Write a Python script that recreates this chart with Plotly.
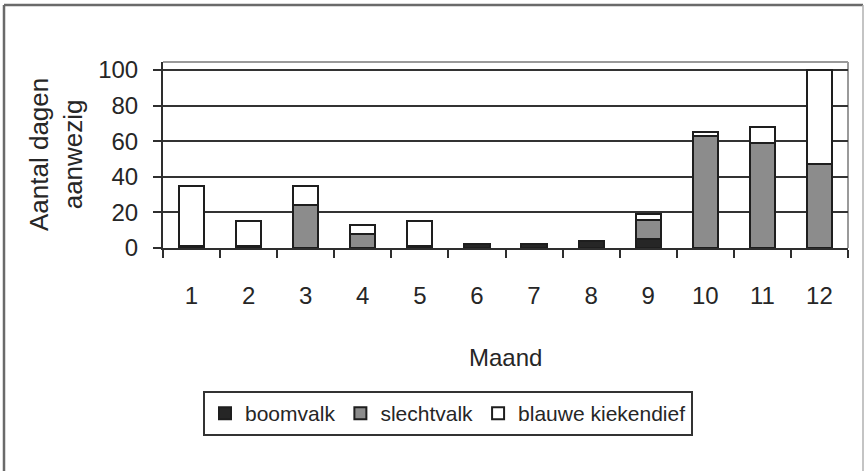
import plotly.graph_objects as go

# Months and days present per raptor species
maand = ["1", "2", "3", "4", "5", "6", "7", "8", "9", "10", "11", "12"]
boomvalk = [1, 1, 0, 0, 1, 2, 2, 4, 5, 0, 0, 0]
slechtvalk = [0, 0, 24, 8, 0, 0, 0, 0, 11, 63, 59, 47]
blauwe_kiekendief = [34, 14, 11, 5, 14, 0, 0, 0, 3, 2, 9, 53]
y_ticks = [0, 20, 40, 60, 80, 100]

FONT = "Liberation Sans, Arial, sans-serif"
INK = "#262626"
EDGE = dict(color="#1e1e1e", width=2)

W, H = 868, 471
L, R, T, B = 163, 20, 62, 223
PW, PH = W - L - R, H - T - B


def px_x(p):
    return (p - L) / PW


def px_y(p):
    return (H - B - p) / PH


fig = go.Figure()
fig.add_trace(go.Bar(x=maand, y=boomvalk, name="boomvalk",
                     marker=dict(color="#262626", line=EDGE)))
fig.add_trace(go.Bar(x=maand, y=slechtvalk, name="slechtvalk",
                     marker=dict(color="#8c8c8c", line=EDGE)))
fig.add_trace(go.Bar(x=maand, y=blauwe_kiekendief, name="blauwe kiekendief",
                     marker=dict(color="#ffffff", line=EDGE)))

shapes = [
    # light frame on top and right of the plotting area
    dict(type="line", xref="paper", yref="paper", x0=0, x1=1, y0=1, y1=1,
         line=dict(color="#9a9a9a", width=2), layer="below"),
    dict(type="line", xref="paper", yref="paper", x0=1, x1=1, y0=0, y1=1,
         line=dict(color="#9a9a9a", width=2), layer="below"),
    # outer chart border
    dict(type="line", xref="paper", yref="paper", x0=px_x(4), x1=px_x(4),
         y0=px_y(5), y1=px_y(480), line=dict(color="#6a6a6a", width=2.5)),
    dict(type="line", xref="paper", yref="paper", x0=px_x(4), x1=px_x(863),
         y0=px_y(5), y1=px_y(5), line=dict(color="#6a6a6a", width=2.5)),
    dict(type="line", xref="paper", yref="paper", x0=px_x(863), x1=px_x(863),
         y0=px_y(5), y1=px_y(480), line=dict(color="#b0b0b0", width=1.5)),
]

annotations = [
    dict(text="Aantal dagen<br>aanwezig", xref="paper", yref="paper",
         x=px_x(56), y=0.5, xanchor="center", yanchor="middle", textangle=-90,
         showarrow=False, font=dict(family=FONT, size=26, color=INK)),
    dict(text="Maand", xref="paper", yref="paper",
         x=0.5, y=px_y(357), xanchor="center", yanchor="middle",
         showarrow=False, font=dict(family=FONT, size=24, color=INK)),
]

fig.update_layout(
    width=W, height=H,
    margin=dict(l=L, r=R, t=T, b=B),
    barmode="stack",
    bargap=0.56,
    paper_bgcolor="white",
    plot_bgcolor="white",
    font=dict(family=FONT, color=INK),
    showlegend=True,
    legend=dict(
        orientation="h", x=px_x(448), xanchor="center", y=px_y(391), yanchor="top",
        bordercolor="#333333", borderwidth=2, bgcolor="white",
        font=dict(family=FONT, size=21, color=INK),
        itemwidth=30, tracegroupgap=0, traceorder="normal",
    ),
    shapes=shapes,
    annotations=annotations,
)

fig.update_xaxes(
    type="category",
    showline=True, linecolor="#2e2e2e", linewidth=2,
    ticks="outside", tickson="boundaries", ticklen=8, tickwidth=2, tickcolor="#2e2e2e",
    tickfont=dict(family=FONT, size=24, color=INK),
    ticklabelstandoff=25,
    showgrid=False,
)
fig.update_yaxes(
    range=[0, 100 * PH / 178],
    tickvals=y_ticks,
    showline=True, linecolor="#2e2e2e", linewidth=2,
    ticks="outside", ticklen=8, tickwidth=2, tickcolor="#2e2e2e",
    tickfont=dict(family=FONT, size=24, color=INK),
    ticklabelstandoff=10,
    showgrid=True, gridcolor="#333333", gridwidth=2,
    zeroline=False,
)

fig.write_html("out.html")
